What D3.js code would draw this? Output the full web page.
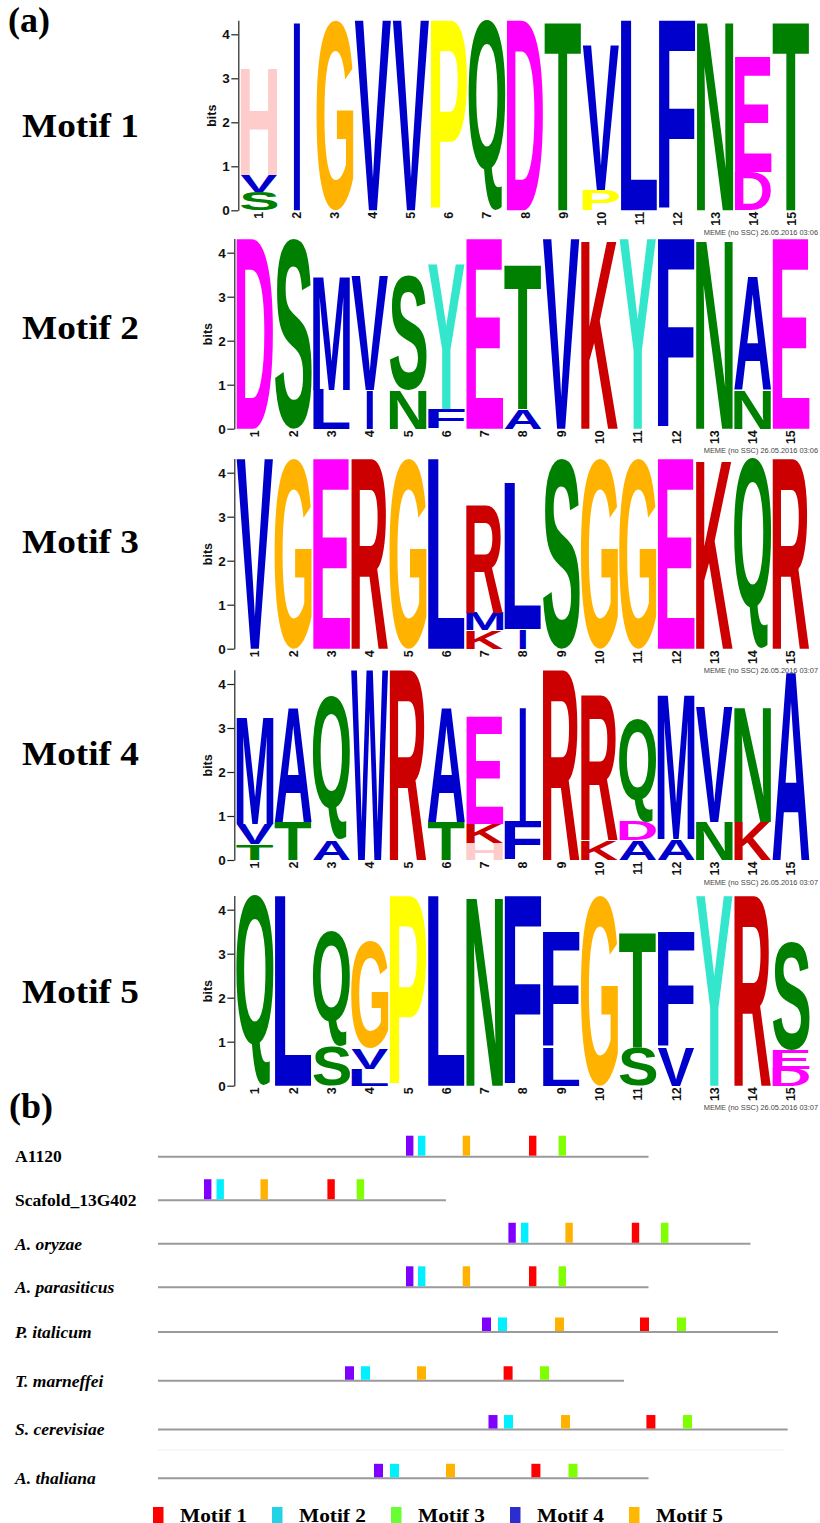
<!DOCTYPE html>
<html>
<head>
<meta charset="utf-8">
<script src="https://cdn.jsdelivr.net/npm/d3@7"></script>
<style>
  body { margin: 0; background: #fff; }
  svg { display: block; }
</style>
</head>
<body>
<div id="fig"></div>
<script>
// (a) sequence logos: each column is listed bottom -> top as [residue, bits]
var motif1 = [
  [["S", 0.42], ["V", 0.38], ["H", 2.45]],
  [["I", 4.32]], [["G", 4.32]], [["V", 4.32]], [["V", 4.32]], [["P", 4.32]],
  [["Q", 4.32]], [["D", 4.32]], [["T", 4.32]],
  [["P", 0.46], ["V", 3.29]],
  [["L", 4.32]], [["F", 4.32]], [["N", 4.32]],
  [["D", 0.86], ["E", 2.62]],
  [["T", 4.32]]
];
var motif2 = [
  [["D", 4.32]], [["S", 4.32]],
  [["L", 0.89], ["M", 2.6]],
  [["I", 0.89], ["V", 2.6]],
  [["N", 0.89], ["S", 2.6]],
  [["F", 0.45], ["Y", 3.3]],
  [["E", 4.32]],
  [["A", 0.45], ["T", 3.3]],
  [["V", 4.32]], [["K", 4.32]], [["Y", 4.32]], [["F", 4.32]], [["N", 4.32]],
  [["N", 0.89], ["A", 2.6]],
  [["E", 4.32]]
];
var motif3 = [
  [["V", 4.32]], [["G", 4.32]], [["E", 4.32]], [["R", 4.32]], [["G", 4.32]], [["L", 4.32]],
  [["K", 0.42], ["M", 0.4], ["R", 2.43]],
  [["I", 0.45], ["L", 3.32]],
  [["S", 4.32]], [["G", 4.32]], [["G", 4.32]], [["E", 4.32]], [["K", 4.32]], [["Q", 4.32]], [["R", 4.32]]
];
var motif4 = [
  [["T", 0.36], ["V", 0.45], ["M", 2.44]],
  [["T", 0.87], ["A", 2.62]],
  [["A", 0.45], ["Q", 3.28]],
  [["W", 4.32]], [["R", 4.32]],
  [["T", 0.87], ["A", 2.62]],
  [["H", 0.38], ["K", 0.43], ["E", 2.44]],
  [["F", 0.87], ["I", 2.62]],
  [["R", 4.32]],
  [["K", 0.45], ["R", 3.3]],
  [["A", 0.45], ["D", 0.42], ["Q", 2.36]],
  [["A", 0.47], ["M", 3.3]],
  [["N", 0.87], ["V", 2.62]],
  [["K", 0.87], ["N", 2.62]],
  [["A", 4.32]]
];
var motif5 = [
  [["Q", 4.32]], [["L", 4.32]],
  [["S", 0.89], ["Q", 2.6]],
  [["L", 0.38], ["V", 0.47], ["G", 2.42]],
  [["P", 4.32]], [["L", 4.32]], [["N", 4.32]], [["F", 4.32]],
  [["L", 0.86], ["F", 2.64]],
  [["G", 4.32]],
  [["S", 0.87], ["T", 2.63]],
  [["V", 0.87], ["F", 2.63]],
  [["Y", 4.32]], [["R", 4.32]],
  [["D", 0.39], ["E", 0.42], ["S", 2.46]]
];
var motifNames = ["Motif 1", "Motif 2", "Motif 3", "Motif 4", "Motif 5"];
var positions = d3.range(1, 16);
var bitTicks = [0, 1, 2, 3, 4];
var memeStamps = [
  "MEME (no SSC) 26.05.2016 03:06", "MEME (no SSC) 26.05.2016 03:06",
  "MEME (no SSC) 26.05.2016 03:07", "MEME (no SSC) 26.05.2016 03:07",
  "MEME (no SSC) 26.05.2016 03:07"
];

// (b) motif locations along each protein
var species = ["A1120", "Scafold_13G402", "A. oryzae", "A. parasiticus",
               "P. italicum", "T. marneffei", "S. cerevisiae", "A. thaliana"];
var seqLength = [490.5, 288, 592.5, 490.5, 620, 466, 629.7, 490.5];
// start of Motif 1..5 in each sequence
var motifStart = [
  [371, 260, 400.6, 248, 304.7],
  [169.4, 58.5, 198.7, 46, 102.5],
  [473.8, 363, 503, 350.4, 407.4],
  [371, 260, 400.6, 248, 304.7],
  [482, 340, 519, 324, 397],
  [345.6, 203, 382, 187, 259],
  [488.4, 346, 525, 330.5, 403],
  [373.4, 232, 410.5, 216, 288]
];
var legendLabels = ["Motif 1", "Motif 2", "Motif 3", "Motif 4", "Motif 5"];

// colours
var residueColor = {
  A: "#0000cc", C: "#0000cc", F: "#0000cc", I: "#0000cc", L: "#0000cc", V: "#0000cc", W: "#0000cc", M: "#0000cc",
  N: "#008000", Q: "#008000", S: "#008000", T: "#008000",
  D: "#ff00ff", E: "#ff00ff",
  K: "#cc0000", R: "#cc0000",
  H: "#ffcccc", G: "#ffb300", P: "#ffff00", Y: "#33e6cc"
};
var boxColor = ["#ff0000", "#00f0ff", "#80ff00", "#8000ff", "#ffb300"];
var legendColor = ["#ff0000", "#22d3e8", "#66ff33", "#2a2ecf", "#ffb800"];

var W = 820, H = 1523;
var sans = "'Liberation Sans', Arial, Helvetica, sans-serif";
var serif = "'Liberation Serif', 'Times New Roman', serif";

var svg = d3.select("#fig").append("svg")
  .attr("width", W)
  .attr("height", H);

// glyph ink box measurement so every letter fills its cell
var ctx = document.createElement("canvas").getContext("2d");
ctx.font = "bold 100px " + sans;
var glyphBox = {};
function measure(ch) {
  if (!glyphBox[ch]) {
    var m = ctx.measureText(ch);
    glyphBox[ch] = {l: m.actualBoundingBoxLeft, r: m.actualBoundingBoxRight,
                    a: m.actualBoundingBoxAscent, d: m.actualBoundingBoxDescent};
  }
  return glyphBox[ch];
}

var maxBits = Math.log2(20);
var panels = [
  {data: motif1, y0: 210.3, axisX: 238.3, x0: 240.5, labelY: 125},
  {data: motif2, y0: 428.7, axisX: 234.3, x0: 236.3, labelY: 327},
  {data: motif3, y0: 648.7, axisX: 234.3, x0: 236.3, labelY: 541},
  {data: motif4, y0: 860,   axisX: 234.3, x0: 236.3, labelY: 753},
  {data: motif5, y0: 1085.7, axisX: 234.3, x0: 236.3, labelY: 991}
];

svg.append("text")
  .attr("x", 8).attr("y", 32)
  .attr("font-family", serif).attr("font-weight", "bold").attr("font-size", 36)
  .text("(a)");

panels.forEach(function(p, i) {
  var g = svg.append("g").attr("class", "logo");

  var x = d3.scaleBand().domain(positions).range([p.x0, 809.5]).paddingInner(0.03);
  var y = d3.scaleLinear().domain([0, maxBits]).range([p.y0, p.y0 - maxBits * 44]);

  var cells = [];
  p.data.forEach(function(col, ci) {
    var base = 0;
    col.forEach(function(c) {
      cells.push({pos: positions[ci], ch: c[0], lo: base, hi: base + c[1]});
      base += c[1];
    });
  });

  g.selectAll("text.letter")
    .data(cells)
    .enter()
    .append("text")
    .attr("class", "letter")
    .attr("font-family", sans)
    .attr("font-weight", "bold")
    .attr("font-size", 100)
    .attr("fill", function(d) { return residueColor[d.ch]; })
    .attr("transform", function(d) {
      var b = measure(d.ch);
      var bw = x.bandwidth();
      var bx = x(d.pos);
      if (d.ch === "I") { bx += bw * 0.41; bw = bw * 0.18; }
      var by = y(d.hi);
      var bh = y(d.lo) - y(d.hi);
      var sx = bw / (b.l + b.r);
      var sy = bh / (b.a + b.d);
      return "translate(" + (bx + b.l * sx) + "," + (by + b.a * sy) + ") scale(" + sx + "," + sy + ")";
    })
    .text(function(d) { return d.ch; });

  // y axis
  var yAxis = d3.axisLeft(y)
    .tickValues(bitTicks)
    .tickFormat(d3.format("d"))
    .tickSize(7).tickSizeOuter(0).tickPadding(1.5);
  var ya = g.append("g")
    .attr("transform", "translate(" + p.axisX + ",0)")
    .call(yAxis);
  ya.selectAll("text")
    .attr("font-family", sans).attr("font-weight", "bold").attr("font-size", 13.5).attr("fill", "#111");
  ya.selectAll("path, line").attr("stroke", "#222").attr("stroke-width", 1.2);

  g.append("text")
    .attr("transform", "translate(" + (p.axisX - 22) + "," + y(2.15) + ") rotate(-90)")
    .attr("text-anchor", "middle")
    .attr("font-family", sans).attr("font-weight", "bold").attr("font-size", 12.5)
    .attr("fill", "#111")
    .text("bits");

  // position labels
  var xAxis = d3.axisBottom(x).tickSize(0).tickPadding(0);
  var xa = g.append("g")
    .attr("transform", "translate(0," + p.y0 + ")")
    .call(xAxis);
  xa.select(".domain").remove();
  xa.selectAll("text")
    .attr("transform", "rotate(-90)")
    .attr("x", -1.5).attr("y", 0).attr("dy", "0.36em")
    .attr("text-anchor", "end")
    .attr("font-family", sans).attr("font-weight", "bold").attr("font-size", 12.5)
    .attr("fill", "#111");

  g.append("text")
    .attr("x", 818).attr("y", p.y0 + 24.5)
    .attr("text-anchor", "end")
    .attr("font-family", sans).attr("font-size", 7.4).attr("fill", "#444")
    .text(memeStamps[i]);

  svg.append("text")
    .attr("x", 22).attr("y", p.labelY).attr("dy", "0.35em")
    .attr("font-family", serif).attr("font-weight", "bold").attr("font-size", 34)
    .attr("textLength", 117).attr("lengthAdjust", "spacingAndGlyphs")
    .text(motifNames[i]);
});

// (b) motif diagram
svg.append("text")
  .attr("x", 9).attr("y", 1118)
  .attr("font-family", serif).attr("font-weight", "bold").attr("font-size", 36)
  .text("(b)");

var xSeq = d3.scaleLinear().domain([0, 630]).range([158, 788]);
var yUpper = d3.scalePoint().domain(species.slice(0, 4)).range([1156.7, 1287.3]);
var yLower = d3.scalePoint().domain(species.slice(4)).range([1332, 1478.3]);
function rowY(name, i) { return i < 4 ? yUpper(name) : yLower(name); }

var rows = species.map(function(name, i) {
  return {name: name, len: seqLength[i], starts: motifStart[i], y: rowY(name, i), lower: i >= 4};
});

// faint divider as in the figure
svg.append("line")
  .attr("x1", xSeq(0)).attr("x2", xSeq(626))
  .attr("y1", (rows[6].y + rows[7].y) / 2 - 4).attr("y2", (rows[6].y + rows[7].y) / 2 - 4)
  .attr("stroke", "#eeeeee").attr("stroke-width", 1);

var row = svg.selectAll("g.row")
  .data(rows)
  .enter()
  .append("g")
  .attr("class", "row");

row.append("text")
  .attr("x", 15)
  .attr("y", function(d) { return d.y; })
  .attr("dy", "0.33em")
  .attr("font-family", serif).attr("font-weight", "bold").attr("font-size", 17.5)
  .attr("font-style", function(d) { return d.name.indexOf(". ") > 0 ? "italic" : "normal"; })
  .text(function(d) { return d.name; });

row.append("line")
  .attr("x1", xSeq(0))
  .attr("x2", function(d) { return xSeq(d.len); })
  .attr("y1", function(d) { return d.y; })
  .attr("y2", function(d) { return d.y; })
  .attr("stroke", "#9a9a9a").attr("stroke-width", 2);

row.selectAll("rect")
  .data(function(d) {
    return d.starts.map(function(s, k) { return {start: s, k: k, y: d.y, lower: d.lower}; });
  })
  .enter()
  .append("rect")
  .attr("x", function(d) { return xSeq(d.start); })
  .attr("width", function(d) { return d.lower ? 9 : 7.4; })
  .attr("y", function(d) { return d.y - 1 - (d.lower ? 13.5 : 20); })
  .attr("height", function(d) { return d.lower ? 13.5 : 20; })
  .attr("fill", function(d) { return boxColor[d.k]; });

// legend
var xLeg = d3.scalePoint().domain(legendLabels).range([153, 629]);
var leg = svg.selectAll("g.legend")
  .data(legendLabels)
  .enter()
  .append("g")
  .attr("class", "legend")
  .attr("transform", function(d) { return "translate(" + xLeg(d) + ",1507)"; });

leg.append("rect")
  .attr("width", 10.5).attr("height", 16)
  .attr("fill", function(d, i) { return legendColor[i]; });

leg.append("text")
  .attr("x", 27).attr("y", 14.5)
  .attr("font-family", serif).attr("font-weight", "bold").attr("font-size", 19)
  .attr("textLength", 67).attr("lengthAdjust", "spacingAndGlyphs")
  .text(function(d) { return d; });
</script>
</body>
</html>
